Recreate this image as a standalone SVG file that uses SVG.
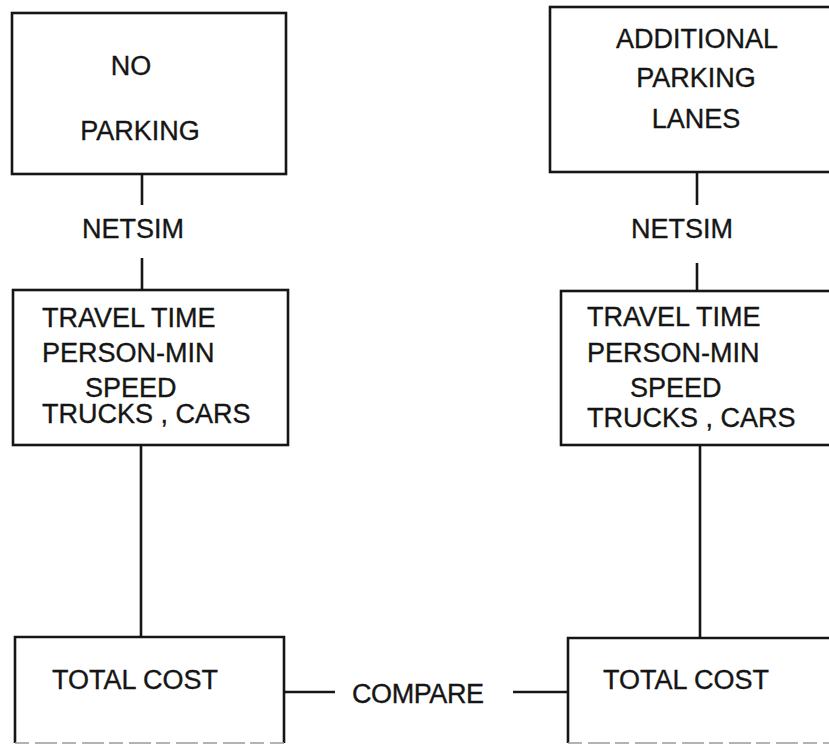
<svg xmlns="http://www.w3.org/2000/svg" width="829" height="745" viewBox="0 0 829 745">
  <style>
    .box { fill: none; stroke: #151515; stroke-width: 2.6; }
    .edge { fill: none; stroke: #151515; stroke-width: 2.6; }
    .faint { fill: none; stroke: #9a9a9a; stroke-width: 1.5; stroke-dasharray: 14 6 22 5; }
    text { font-family: "Liberation Sans", Arial, sans-serif; font-size: 27px; fill: #151515; stroke: #151515; stroke-width: 0.35; }
  </style>
  <rect width="829" height="745" fill="#ffffff"/>

  <g id="connectors">
    <!-- left column -->
    <line class="edge" x1="142" y1="174" x2="142" y2="205"/>
    <line class="edge" x1="142" y1="258" x2="142" y2="290"/>
    <line class="edge" x1="141" y1="445" x2="141" y2="637"/>
    <!-- right column -->
    <line class="edge" x1="697" y1="172" x2="697" y2="205"/>
    <line class="edge" x1="697" y1="263" x2="697" y2="291"/>
    <line class="edge" x1="700" y1="445" x2="700" y2="638"/>
    <!-- compare link -->
    <line class="edge" x1="284" y1="692" x2="335" y2="692"/>
    <line class="edge" x1="513" y1="692" x2="568" y2="692"/>
    <text x="133" y="238" text-anchor="middle">NETSIM</text>
    <text x="682" y="238" text-anchor="middle">NETSIM</text>
    <text x="418" y="703" text-anchor="middle" textLength="132">COMPARE</text>
  </g>

  <g id="no-parking">
    <rect class="box" x="12" y="13" width="274" height="161"/>
    <text x="131" y="75" text-anchor="middle">NO</text>
    <text x="140" y="140" text-anchor="middle">PARKING</text>
  </g>

  <g id="additional-parking">
    <rect class="box" x="550" y="7" width="300" height="165"/>
    <text x="697" y="48" text-anchor="middle">ADDITIONAL</text>
    <text x="696" y="87" text-anchor="middle">PARKING</text>
    <text x="696" y="128" text-anchor="middle">LANES</text>
  </g>

  <g id="results-left">
    <rect class="box" x="13" y="290" width="275" height="155"/>
    <text x="42" y="327">TRAVEL TIME</text>
    <text x="42" y="362">PERSON-MIN</text>
    <text x="85" y="397">SPEED</text>
    <text x="42" y="423">TRUCKS , CARS</text>
  </g>

  <g id="results-right">
    <rect class="box" x="561" y="291" width="290" height="154"/>
    <text x="587" y="326">TRAVEL TIME</text>
    <text x="587" y="362">PERSON-MIN</text>
    <text x="630" y="397">SPEED</text>
    <text x="587" y="427">TRUCKS , CARS</text>
  </g>

  <g id="cost-left">
    <path class="edge" d="M15,743 V637 H284 V743"/>
    <line class="faint" x1="15" y1="743" x2="284" y2="743"/>
    <text x="52" y="689">TOTAL COST</text>
  </g>

  <g id="cost-right">
    <path class="edge" d="M568,743 V638 H840"/>
    <line class="faint" x1="568" y1="743" x2="829" y2="743"/>
    <text x="603" y="689">TOTAL COST</text>
  </g>
</svg>
